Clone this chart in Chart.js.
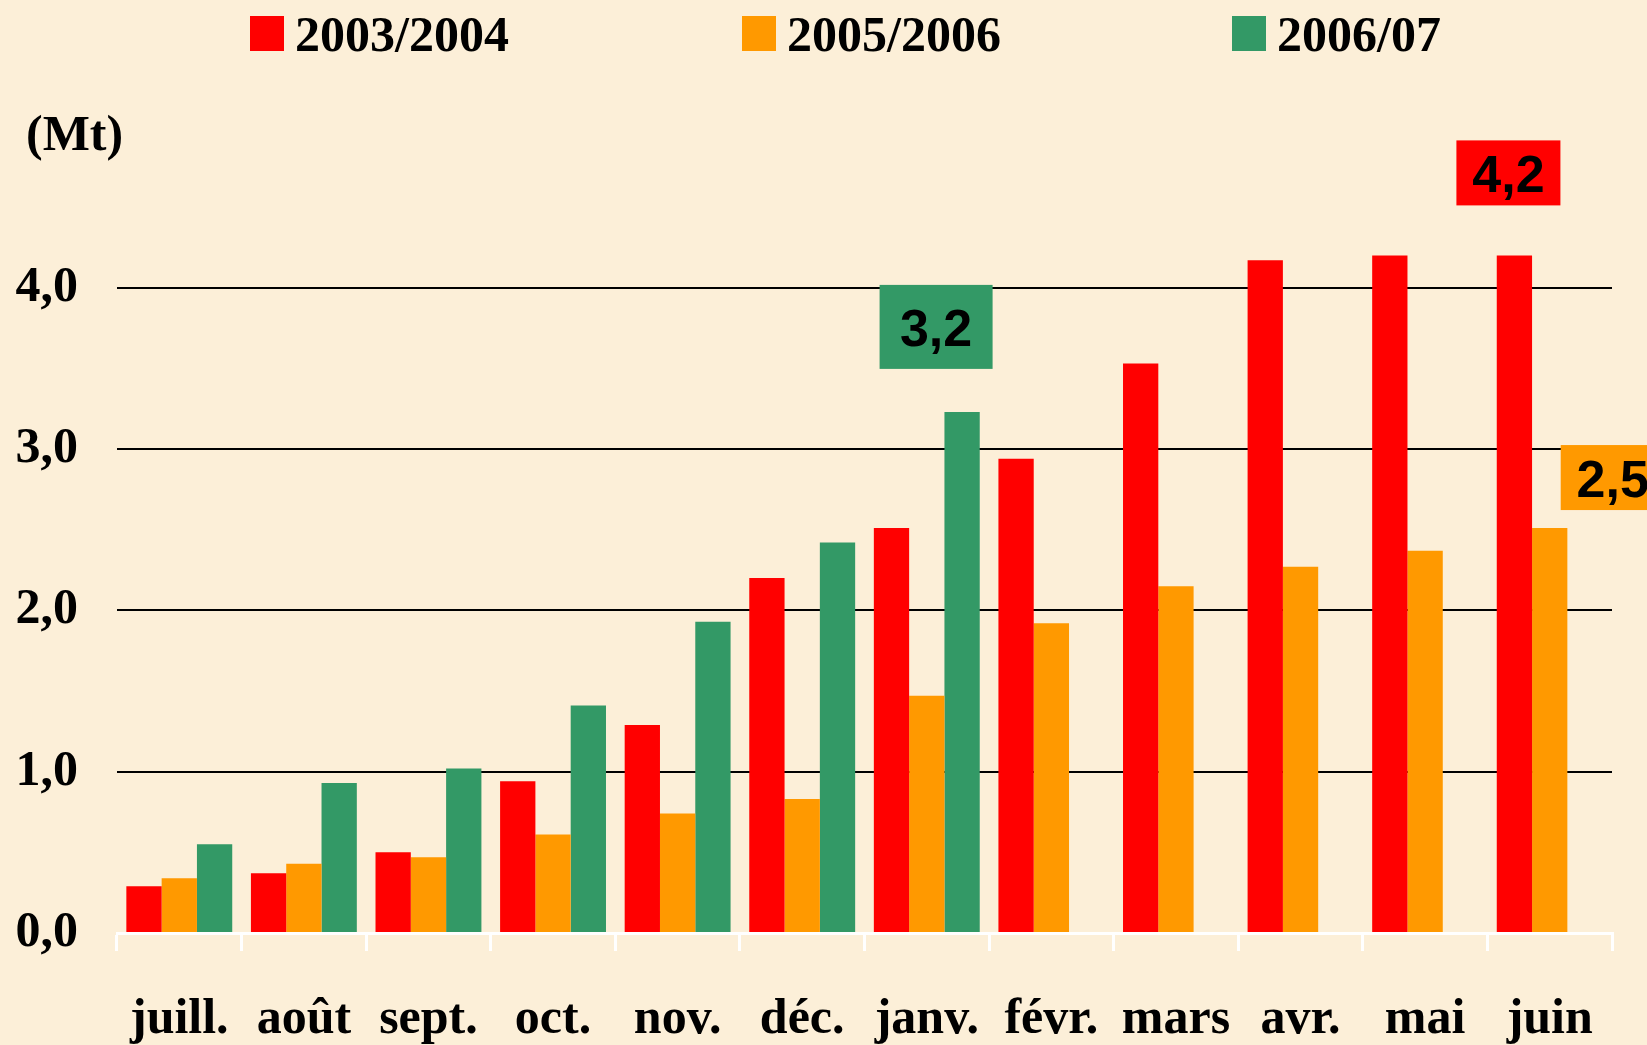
<!DOCTYPE html>
<html>
<head>
<meta charset="utf-8">
<script src="https://cdn.jsdelivr.net/npm/chart.js@4.4.1/dist/chart.umd.min.js"></script>
<style>
  html, body { margin: 0; padding: 0; background: #fcefd8; }
  #chart { display: block; }
</style>
</head>
<body>
<canvas id="chart" width="1647" height="1045"></canvas>
<script>
// data (Mt, cumulative per month)
const months = ['juill.', 'août', 'sept.', 'oct.', 'nov.', 'déc.', 'janv.', 'févr.', 'mars', 'avr.', 'mai', 'juin'];
const seriesNames = ['2003/2004', '2005/2006', '2006/07'];
const values0304 = [0.29, 0.37, 0.50, 0.94, 1.29, 2.20, 2.51, 2.94, 3.53, 4.17, 4.20, 4.20];
const values0506 = [0.34, 0.43, 0.47, 0.61, 0.74, 0.83, 1.47, 1.92, 2.15, 2.27, 2.37, 2.51];
const values0607 = [0.55, 0.93, 1.02, 1.41, 1.93, 2.42, 3.23, null, null, null, null, null];
const yTicks = [0, 1, 2, 3, 4];
const callouts = [
  { series: 2, month: 6, text: '3,2' },
  { series: 0, month: 11, text: '4,2' },
  { series: 1, month: 11, text: '2,5' }
];

const colors = ['#ff0000', '#ff9900', '#339966'];
const serif = '"Liberation Serif", "Times New Roman", serif';

// callout box placement relative to its bar
const calloutStyle = {
  '3,2': { dx: -26, gap: 43, w: 113, h: 84 },
  '4,2': { dx: -6, gap: 50, w: 104, h: 65 },
  '2,5': { dx: 63, gap: 18, w: 104, h: 65 }
};

const decor = {
  id: 'decor',
  afterDraw(chart) {
    const ctx = chart.ctx;
    ctx.save();
    ctx.font = 'bold 50px ' + serif;
    ctx.fillStyle = '#000';
    ctx.textBaseline = 'alphabetic';
    ctx.textAlign = 'left';
    ctx.fillText('(Mt)', 26, 150);

    // legend
    const legendX = [250, 742, 1232];
    chart.data.datasets.forEach((ds, i) => {
      ctx.fillStyle = ds.backgroundColor;
      ctx.fillRect(legendX[i], 16, 34, 35);
      ctx.fillStyle = '#000';
      ctx.fillText(ds.label, legendX[i] + 45, 51);
    });

    // value callouts
    ctx.font = 'bold 52px "Liberation Sans", Arial, sans-serif';
    ctx.textAlign = 'center';
    callouts.forEach(c => {
      const bar = chart.getDatasetMeta(c.series).data[c.month];
      const st = calloutStyle[c.text];
      const cx = bar.x + st.dx;
      const bottom = bar.y - st.gap;
      ctx.fillStyle = colors[c.series];
      ctx.fillRect(cx - st.w / 2, bottom - st.h, st.w, st.h);
      ctx.fillStyle = '#000';
      ctx.fillText(c.text, cx, bottom - st.h / 2 + 19);
    });
    ctx.restore();
  }
};

new Chart(document.getElementById('chart'), {
  type: 'bar',
  data: {
    labels: months,
    datasets: [
      { label: seriesNames[0], data: values0304, backgroundColor: colors[0] },
      { label: seriesNames[1], data: values0506, backgroundColor: colors[1] },
      { label: seriesNames[2], data: values0607, backgroundColor: colors[2] }
    ]
  },
  options: {
    responsive: false,
    devicePixelRatio: 1,
    animation: false,
    datasets: { bar: { barPercentage: 1, categoryPercentage: 0.85, borderWidth: 0 } },
    layout: { padding: { top: 207, right: 35, bottom: 0, left: 0 } },
    plugins: { legend: { display: false }, tooltip: { enabled: false } },
    scales: {
      x: {
        afterFit: s => { s.height = 112; },
        grid: { offset: true, drawOnChartArea: false, drawTicks: true, tickLength: 18, color: '#ffffff', lineWidth: 3 },
        border: { display: true, color: '#ffffff', width: 3 },
        ticks: { color: '#000', font: { family: serif, size: 50, weight: 'bold' }, padding: 39, maxRotation: 0, autoSkip: false }
      },
      y: {
        min: 0,
        max: 4.5,
        afterBuildTicks: s => { s.ticks = yTicks.map(v => ({ value: v })); },
        afterFit: s => { s.width = 117; },
        grid: {
          drawTicks: false,
          color: c => (c.tick && c.tick.value === 0) ? 'rgba(0,0,0,0)' : '#000',
          lineWidth: 2
        },
        border: { display: false },
        ticks: {
          padding: 39,
          color: '#000',
          font: { family: serif, size: 50, weight: 'bold' },
          callback: v => v.toFixed(1).replace('.', ',')
        }
      }
    }
  },
  plugins: [decor]
});
</script>
</body>
</html>
